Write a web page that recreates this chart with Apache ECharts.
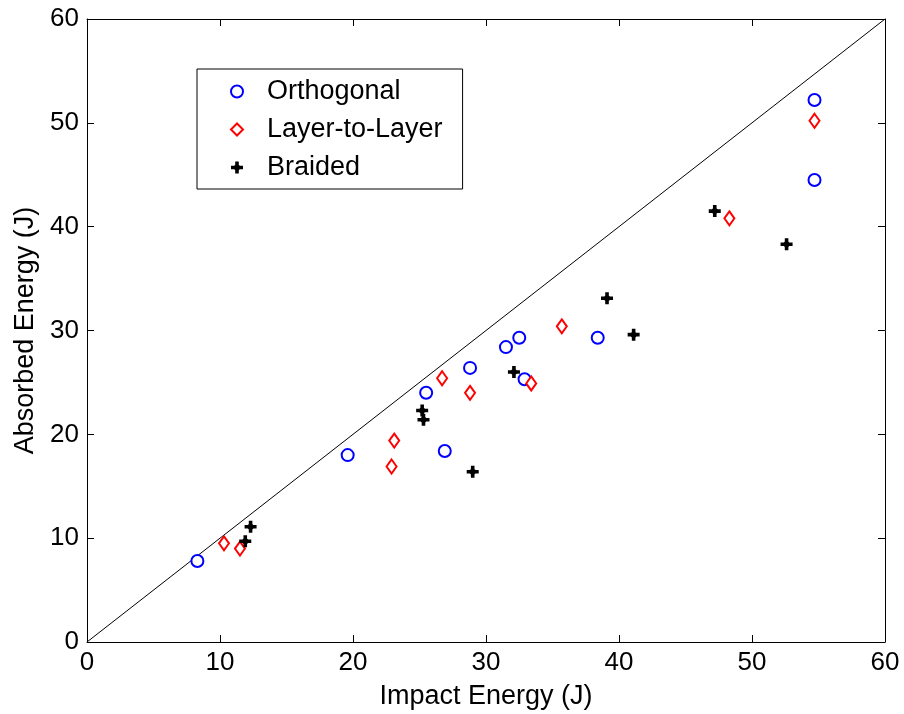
<!DOCTYPE html>
<html>
<head>
<meta charset="utf-8">
<script src="https://cdn.jsdelivr.net/npm/echarts@6/dist/echarts.min.js"></script>
<style>html,body{margin:0;padding:0;background:#fff;}#c{width:904px;height:714px;}</style>
</head>
<body>
<div id="c"></div>
<script>
// Data
const orthogonalX = [8.3, 19.6, 25.5, 28.8, 31.5, 32.5, 32.9, 38.4, 26.9, 54.7, 54.7];
const orthogonalY = [7.8, 18.0, 24.0, 26.4, 28.4, 29.3, 25.3, 29.3, 18.4, 52.2, 44.5];
const layerX = [10.3, 11.5, 23.1, 22.9, 26.7, 28.8, 33.4, 35.7, 48.3, 54.7];
const layerY = [9.5, 9.0, 19.4, 16.9, 25.4, 24.0, 24.9, 30.4, 40.8, 50.2];
const braidedX = [12.3, 11.9, 25.2, 25.3, 32.1, 29.0, 41.1, 39.1, 47.2, 52.6];
const braidedY = [11.1, 9.7, 22.3, 21.4, 26.0, 16.4, 29.6, 33.1, 41.5, 38.3];
const refLineX = [0, 60];
const refLineY = [0, 60];
const tickValues = [0, 10, 20, 30, 40, 50, 60];
const seriesNames = ['Orthogonal', 'Layer-to-Layer', 'Braided'];

const zip = (xs, ys) => xs.map((x, i) => [x, ys[i]]);
const FONT = 'Liberation Sans, Arial, sans-serif';
const plusPath = 'path://M4.2,0H7.8V4.2H12V7.8H7.8V12H4.2V7.8H0V4.2H4.2Z M6,1.5L10.5,6L6,10.5L1.5,6Z';

function axisBase(pos, showLabel) {
  return {
    type: 'value', position: pos, min: tickValues[0], max: tickValues[tickValues.length - 1],
    interval: tickValues[1] - tickValues[0],
    axisLine: { show: true, onZero: false, lineStyle: { color: '#000', width: 1 } },
    axisTick: { show: true, inside: true, length: 7, lineStyle: { color: '#000', width: 1 } },
    splitLine: { show: false },
    axisLabel: { show: showLabel, color: '#000', fontSize: 26, fontFamily: FONT, margin: 8 }
  };
}

const chart = echarts.init(document.getElementById('c'), null, { renderer: 'canvas' });
const xBottom = Object.assign(axisBase('bottom', true), {
  name: 'Impact Energy (J)', nameLocation: 'middle', nameGap: 41,
  nameTextStyle: { color: '#000', fontSize: 27, fontFamily: FONT }
});
const yLeft = Object.assign(axisBase('left', true), {
  name: 'Absorbed Energy (J)', nameLocation: 'middle', nameGap: 46,
  nameTextStyle: { color: '#000', fontSize: 27, fontFamily: FONT }
});
chart.setOption({
  animation: false,
  backgroundColor: '#fff',
  grid: { left: 87, top: 19, right: 19, bottom: 72, containLabel: false, outerBoundsMode: 'none' },
  xAxis: [xBottom, axisBase('top', false)],
  yAxis: [yLeft, axisBase('right', false)],
  legend: {
    data: seriesNames, orient: 'vertical', left: 197, top: 69,
    padding: [9, 20, 8, 33], itemGap: 11, itemWidth: 12, itemHeight: 12,
    backgroundColor: '#fff', borderColor: '#000', borderWidth: 1,
    textStyle: { color: '#000', fontSize: 27, fontFamily: FONT, lineHeight: 27, padding: [0, 0, 0, 19] }
  },
  series: [
    {
      name: 'ref', type: 'line', data: zip(refLineX, refLineY), symbol: 'none',
      lineStyle: { color: '#000', width: 1 }, silent: true, z: 1
    },
    {
      name: seriesNames[0], type: 'scatter', data: zip(orthogonalX, orthogonalY),
      symbol: 'emptyCircle', symbolSize: 12,
      itemStyle: { color: '#0000ff', borderColor: '#0000ff', borderWidth: 2.2, opacity: 1 }, z: 2
    },
    {
      name: seriesNames[1], type: 'scatter', data: zip(layerX, layerY),
      symbol: 'emptyDiamond', symbolSize: [10, 14],
      itemStyle: { color: '#ff0000', borderColor: '#ff0000', borderWidth: 2.2, opacity: 1 }, z: 3
    },
    {
      name: seriesNames[2], type: 'scatter', data: zip(braidedX, braidedY),
      symbol: plusPath, symbolSize: 12,
      itemStyle: { color: '#000', opacity: 1 }, z: 4
    }
  ]
});
</script>
</body>
</html>
